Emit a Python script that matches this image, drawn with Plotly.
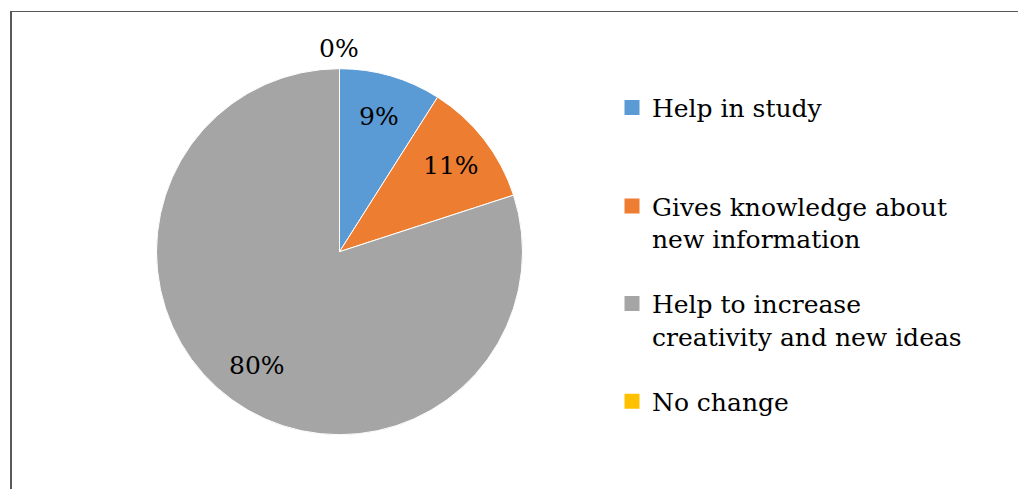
import math
import plotly.graph_objects as go

# Survey answers and their percentage shares
categories = [
    "Help in study",
    "Gives knowledge about new information",
    "Help to increase creativity and new ideas",
    "No change",
]
legend_labels = [
    "Help in study",
    "Gives knowledge about<br>new information",
    "Help to increase<br>creativity and new ideas",
    "No change",
]
shares = [9, 11, 80, 0]
colors = ["#5B9BD5", "#ED7D31", "#A5A5A5", "#FFC000"]

# Canvas and pie geometry (pixels)
W, H = 1018, 489
pie_cx, pie_cy, pie_r = 339.5, 251.7, 183.0
serif = "DejaVu Serif"
label_font = dict(family=serif, size=25, color="#000000")
legend_size = 25
legend_font = dict(family=serif, size=legend_size, color="#000000")

dom_x = [(pie_cx - pie_r) / W, (pie_cx + pie_r) / W]
dom_y = [(H - pie_cy - pie_r) / H, (H - pie_cy + pie_r) / H]

fig = go.Figure()
fig.add_trace(
    go.Pie(
        labels=categories,
        values=shares,
        marker=dict(colors=colors, line=dict(color="#FFFFFF", width=1)),
        sort=False,
        direction="clockwise",
        rotation=0,
        textinfo="none",
        showlegend=False,
        domain=dict(x=dom_x, y=dom_y),
        hovertemplate="%{label}: %{value}%<extra></extra>",
    )
)

# Percentage labels placed along each slice's middle angle
total = sum(shares)
annotations = []
cum = 0.0
for v in shares:
    mid = (cum + v / 2.0) / total * 2 * math.pi
    cum += v
    frac = 0.77 if v > 0 else 1.11
    px = pie_cx + frac * pie_r * math.sin(mid)
    py = pie_cy - frac * pie_r * math.cos(mid)
    annotations.append(
        dict(
            x=px / W, y=1 - py / H, xref="paper", yref="paper",
            text=f"{v}%", showarrow=False, font=label_font,
            xanchor="center", yanchor="middle",
        )
    )

# Legend entries, one legend box per category so spacing can be set freely;
# each box top sits a fixed distance above the first text baseline
baselines = [117.3, 215.7, 313.3, 411.0]
line_h = legend_size * 1.3
baseline_drop = (line_h + 3) / 2 + 5 + 0.3 * line_h
legend_left = 612.0
legend_keys = ["legend", "legend2", "legend3", "legend4"]
for i, name in enumerate(legend_labels):
    fig.add_trace(
        go.Scatter(
            x=[None], y=[None], mode="markers",
            marker=dict(symbol="square", size=15, color=colors[i], line=dict(width=0)),
            name=name, showlegend=True, legend=legend_keys[i], hoverinfo="skip",
        )
    )

legend_layout = {}
for key, base in zip(legend_keys, baselines):
    top = base - baseline_drop
    legend_layout[key] = dict(
        x=legend_left / W, y=1 - top / H, xanchor="left", yanchor="top",
        font=legend_font, bgcolor="rgba(0,0,0,0)", borderwidth=0,
        valign="top", itemsizing="trace",
    )

frame_color = "#595959"
shapes = [
    dict(type="line", xref="paper", yref="paper",
         x0=11 / W, x1=1.0, y0=1 - 11.5 / H, y1=1 - 11.5 / H,
         line=dict(color=frame_color, width=1)),
    dict(type="line", xref="paper", yref="paper",
         x0=11 / W, x1=11 / W, y0=0.0, y1=1 - 11 / H,
         line=dict(color=frame_color, width=2)),
]

fig.update_layout(
    width=W, height=H, autosize=False,
    margin=dict(l=0, r=0, t=0, b=0),
    paper_bgcolor="#FFFFFF", plot_bgcolor="#FFFFFF",
    font=dict(family=serif),
    xaxis=dict(visible=False), yaxis=dict(visible=False),
    annotations=annotations, shapes=shapes,
    **legend_layout,
)

fig.write_html("out.html")
